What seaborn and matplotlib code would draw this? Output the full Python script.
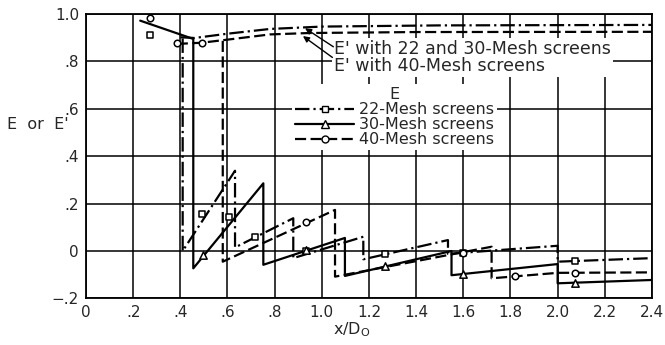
import numpy as np
import matplotlib
matplotlib.use("Agg")
import matplotlib.pyplot as plt
from matplotlib.lines import Line2D
import seaborn as sns

# E' (upper) curves
x22_top = [0.40, 0.46, 0.60, 0.78, 1.00, 1.50, 2.40]
y22_top = [0.900, 0.897, 0.915, 0.935, 0.945, 0.950, 0.952]
x40_top = [0.385, 0.49, 0.60, 0.78, 0.95, 1.40, 2.40]
y40_top = [0.872, 0.877, 0.890, 0.912, 0.918, 0.922, 0.923]

# E curves (repeated x = vertical drop at a screen)
x22 = [0.41, 0.41, 0.632, 0.632, 0.879, 0.879, 1.176, 1.176, 1.535, 1.535, 2.0, 2.0, 2.4]
y22 = [0.895, 0.0, 0.338, 0.015, 0.138, -0.03, 0.06, -0.035, 0.046, -0.012, 0.022, -0.045, -0.03]
x30 = [0.23, 0.455, 0.455, 0.752, 0.752, 1.098, 1.098, 1.55, 1.55, 2.0, 2.0, 2.4]
y30 = [0.97, 0.893, -0.073, 0.285, -0.058, 0.055, -0.105, 0.0, -0.102, -0.055, -0.136, -0.122]
x40 = [0.58, 0.58, 1.056, 1.056, 1.72, 1.72, 2.0, 2.4]
y40 = [0.885, -0.045, 0.173, -0.108, 0.018, -0.115, -0.092, -0.09]

# measured points
x22_pts = [0.27, 0.493, 0.608, 0.717, 0.935, 1.268, 1.60, 2.074]
y22_pts = [0.91, 0.155, 0.144, 0.057, 0.0, -0.012, -0.007, -0.042]
x30_pts = [0.497, 0.935, 1.268, 1.60, 2.074]
y30_pts = [-0.015, 0.003, -0.064, -0.097, -0.133]
x40_pts = [0.27, 0.385, 0.49, 0.935, 1.60, 1.82, 2.074]
y40_pts = [0.98, 0.874, 0.877, 0.122, -0.007, -0.106, -0.091]

x_ticks = [0, 0.2, 0.4, 0.6, 0.8, 1.0, 1.2, 1.4, 1.6, 1.8, 2.0, 2.2, 2.4]
x_labels = ["0", ".2", ".4", ".6", ".8", "1.0", "1.2", "1.4", "1.6", "1.8", "2.0", "2.2", "2.4"]
y_ticks = [-0.2, 0, 0.2, 0.4, 0.6, 0.8, 1.0]
y_labels = ["\u2212.2", "0", ".2", ".4", ".6", ".8", "1.0"]

sns.set_style("white")
plt.rcParams["font.family"] = ["DejaVu Sans"]

DD = (0, (6.5, 1.8, 1, 1.8))
DS = (0, (5, 2))
LW = 1.6

fig = plt.figure(figsize=(6.65, 3.45), dpi=100)
ax = fig.add_axes([0.1293, 0.1348, 0.8511, 0.826])

line_kw = dict(sort=False, estimator=None, color="black", linewidth=LW, ax=ax, legend=False)
sns.lineplot(x=x22_top, y=y22_top, linestyle=DD, **line_kw)
sns.lineplot(x=x40_top, y=y40_top, linestyle=DS, **line_kw)
sns.lineplot(x=x22, y=y22, linestyle=DD, **line_kw)
sns.lineplot(x=x30, y=y30, linestyle="-", **line_kw)
sns.lineplot(x=x40, y=y40, linestyle=DS, **line_kw)

pt_kw = dict(color="white", edgecolor="black", linewidth=1.1, ax=ax, legend=False, zorder=5)
sns.scatterplot(x=x22_pts, y=y22_pts, marker="s", s=20, **pt_kw)
sns.scatterplot(x=x30_pts, y=y30_pts, marker="^", s=28, **pt_kw)
sns.scatterplot(x=x40_pts, y=y40_pts, marker="o", s=22, **pt_kw)

ax.set_xlim(0, 2.4)
ax.set_ylim(-0.2, 1.0)
ax.set_xticks(x_ticks)
ax.set_xticklabels(x_labels, fontsize=11)
ax.set_yticks(y_ticks)
ax.set_yticklabels(y_labels, fontsize=11)
ax.tick_params(length=0, pad=5)
ax.grid(True, color="black", linewidth=1.1)
ax.set_axisbelow(True)
for sp in ax.spines.values():
    sp.set_color("black")
    sp.set_linewidth(1.3)

ax.set_ylabel("E  or  E'", rotation=0, fontsize=11.5, va="center", ha="center")
ax.yaxis.set_label_coords(-0.085, 0.609)
ax.set_xlabel("x/D$_\\mathregular{O}$", fontsize=11.5, va="center")
ax.xaxis.set_label_coords(0.47, -0.11)

# E' labels with arrows
ax.text(1.052, 0.815, "E' with 22 and 30-Mesh screens\nE' with 40-Mesh screens",
        ha="left", va="center", fontsize=12.5, linespacing=0.9, zorder=4,
        bbox=dict(facecolor="white", edgecolor="none", pad=1.5))
ax.annotate("", xy=(0.929, 0.938), xytext=(1.049, 0.86),
            arrowprops=dict(arrowstyle="-|>", color="black", lw=1.0, mutation_scale=9,
                            shrinkA=0, shrinkB=0), zorder=6)
ax.annotate("", xy=(0.92, 0.905), xytext=(1.045, 0.815),
            arrowprops=dict(arrowstyle="-|>", color="black", lw=1.0, mutation_scale=9,
                            shrinkA=0, shrinkB=0), zorder=6)

handles = [
    Line2D([], [], color="black", lw=LW, ls=DD, marker="s", ms=5, mfc="white", mec="black"),
    Line2D([], [], color="black", lw=LW, ls="-", marker="^", ms=6, mfc="white", mec="black"),
    Line2D([], [], color="black", lw=LW, ls=DS, marker="o", ms=5, mfc="white", mec="black"),
]
leg = ax.legend(handles, ["22-Mesh screens", "30-Mesh screens", "40-Mesh screens"],
                title="E", loc="upper left", bbox_to_anchor=(0.364, 0.753),
                frameon=True, fancybox=False, edgecolor="none", facecolor="white",
                framealpha=1, fontsize=11.5, title_fontsize=11.5, handlelength=3.7,
                handletextpad=0.3, labelspacing=0.0, borderpad=0.2, borderaxespad=0)
leg.set_zorder(4)

fig.savefig("out.png", dpi=100)
